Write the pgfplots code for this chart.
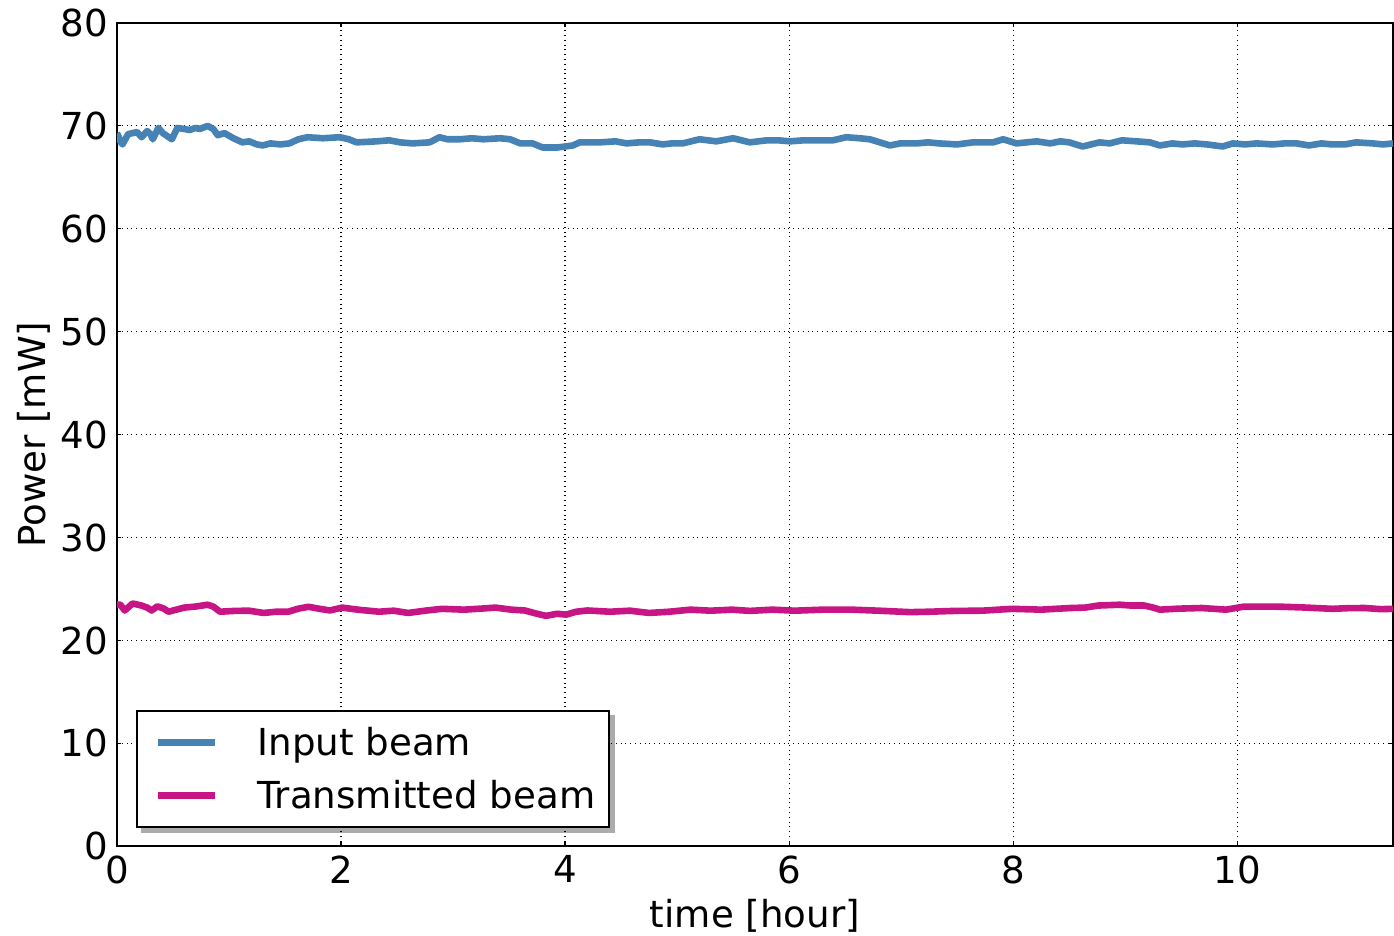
\documentclass[border=0pt]{standalone}
\usepackage{pgfplots}
\pgfplotsset{compat=1.18}
\usepackage{fontspec}
\setmainfont{DejaVu Sans}
\usetikzlibrary{backgrounds}

\definecolor{inputblue}{RGB}{70,130,180}
\definecolor{transmag}{RGB}{199,21,133}

\begin{document}
\begin{tikzpicture}
\begin{axis}[
  scale only axis,
  width=638.5pt, height=412pt,
  xmin=0, xmax=11.39,
  ymin=0, ymax=80,
  xtick={0,2,4,6,8,10},
  ytick={0,10,20,30,40,50,60,70,80},
  font=\fontsize{18.6}{22}\selectfont,
  /pgf/number format/assume math mode=true,
  tick align=inside,
  major tick length=2pt,
  tick style={black, line width=0.6pt},
  axis line style={black, line width=1pt},
  grid=major,
  major grid style={black, dotted, line width=0.6pt},
  xlabel={time [hour]},
  ylabel={Power [mW]},
  xticklabel style={yshift=-1pt},
  yticklabel style={xshift=-1pt},
  xlabel style={yshift=-1pt},
  ylabel style={yshift=-2pt},
  legend cell align=left,
  legend style={
    name=lgd,
    at={(0.015,0.022)}, anchor=south west,
    draw=black, line width=1pt, fill=white,
    inner xsep=5pt, inner ysep=6pt,
    row sep=7pt,
    font=\fontsize{18.6}{22}\selectfont,
  },
  legend image code/.code={\path (0pt,0pt); \draw[#1, line cap=butt] (4pt,0pt) -- (32.5pt,0pt);},
  legend entries={\hspace{17.5pt}Input beam, \hspace{17.5pt}Transmitted beam},
]
% Input beam power
\addplot[color=inputblue, line width=3.3pt, line join=round] coordinates {
(0.00,69.3) (0.01,69.1) (0.03,68.5) (0.05,68.2) (0.07,68.6) (0.10,69.2) (0.14,69.3)
(0.18,69.4) (0.22,68.9) (0.27,69.5) (0.30,69.2) (0.32,68.7) (0.37,69.8) (0.41,69.3)
(0.45,69.0) (0.49,68.7) (0.54,69.8) (0.60,69.7) (0.65,69.6) (0.70,69.8) (0.74,69.7)
(0.81,70.0) (0.86,69.7) (0.90,69.1) (0.96,69.3) (1.04,68.8) (1.12,68.4) (1.18,68.5)
(1.25,68.2) (1.30,68.1) (1.37,68.3) (1.46,68.2) (1.54,68.3) (1.62,68.7) (1.70,68.9)
(1.84,68.8) (1.99,68.9) (2.07,68.7) (2.14,68.4) (2.32,68.5) (2.43,68.6) (2.53,68.4)
(2.64,68.3) (2.79,68.4) (2.88,68.9) (2.95,68.7) (3.06,68.7) (3.17,68.8) (3.27,68.7)
(3.42,68.8) (3.51,68.7) (3.60,68.3) (3.71,68.3) (3.80,67.9) (3.93,67.9) (4.00,68.0)
(4.07,68.1) (4.13,68.4) (4.31,68.4) (4.45,68.5) (4.55,68.3) (4.66,68.4) (4.76,68.4)
(4.87,68.2) (4.95,68.3) (5.05,68.3) (5.20,68.7) (5.35,68.5) (5.50,68.8) (5.65,68.4)
(5.80,68.6) (5.90,68.6) (6.01,68.5) (6.13,68.6) (6.25,68.6) (6.39,68.6) (6.51,68.9)
(6.63,68.8) (6.72,68.7) (6.81,68.4) (6.90,68.1) (6.99,68.3) (7.14,68.3) (7.24,68.4)
(7.34,68.3) (7.50,68.2) (7.64,68.4) (7.82,68.4) (7.91,68.7) (8.03,68.3) (8.12,68.4)
(8.21,68.5) (8.33,68.3) (8.42,68.5) (8.50,68.4) (8.56,68.2) (8.62,68.0) (8.77,68.4)
(8.86,68.3) (8.97,68.6) (9.10,68.5) (9.22,68.4) (9.31,68.1) (9.42,68.3) (9.51,68.2)
(9.62,68.3) (9.73,68.2) (9.87,68.0) (9.96,68.3) (10.07,68.2) (10.17,68.3) (10.32,68.2)
(10.42,68.3) (10.53,68.3) (10.64,68.1) (10.75,68.3) (10.85,68.2) (10.96,68.2) (11.06,68.4)
(11.21,68.3) (11.30,68.2) (11.39,68.3)
};
% Transmitted beam power
\addplot[color=transmag, line width=3.3pt, line join=round] coordinates {
(0.00,23.5) (0.03,23.48) (0.07,22.92) (0.14,23.6) (0.22,23.4) (0.27,23.2) (0.31,22.92)
(0.36,23.32) (0.42,23.1) (0.46,22.8) (0.53,23.0) (0.60,23.2) (0.70,23.3) (0.81,23.48)
(0.86,23.3) (0.92,22.8) (1.05,22.88) (1.18,22.9) (1.31,22.68) (1.42,22.8) (1.53,22.8)
(1.62,23.1) (1.71,23.28) (1.80,23.1) (1.90,22.92) (2.01,23.2) (2.15,23.0) (2.34,22.8)
(2.47,22.9) (2.60,22.68) (2.75,22.9) (2.90,23.08) (3.10,23.0) (3.25,23.1) (3.38,23.2)
(3.52,23.0) (3.64,22.92) (3.75,22.6) (3.83,22.4) (3.93,22.6) (4.01,22.52) (4.10,22.8)
(4.20,22.92) (4.40,22.8) (4.58,22.9) (4.75,22.68) (4.93,22.8) (5.12,23.0) (5.30,22.9)
(5.49,23.0) (5.65,22.88) (5.85,23.0) (6.05,22.9) (6.30,23.0) (6.56,23.0) (6.80,22.9)
(7.08,22.76) (7.25,22.8) (7.48,22.88) (7.72,22.9) (7.99,23.08) (8.25,23.0) (8.51,23.16)
(8.64,23.2) (8.76,23.4) (8.95,23.48) (9.05,23.4) (9.17,23.4) (9.25,23.2) (9.31,23.0)
(9.48,23.1) (9.68,23.16) (9.90,23.0) (10.05,23.28) (10.25,23.3) (10.41,23.28)
(10.62,23.2) (10.85,23.08) (11.00,23.15) (11.14,23.16) (11.28,23.05) (11.39,23.08)
};
\end{axis}
% legend shadow, offset below and right of the legend box
\begin{scope}[on background layer]
  \fill[black!33] ([shift={(2.5pt,-2.5pt)}]lgd.south west) rectangle ([shift={(2.5pt,-2.5pt)}]lgd.north east);
\end{scope}
% page extent: room for the labels around the axis
\pgfresetboundingbox
\path ([shift={(-58.5pt,-44.5pt)}]current axis.south west) rectangle ([shift={(0.5pt,11.5pt)}]current axis.north east);
\end{tikzpicture}
\end{document}
